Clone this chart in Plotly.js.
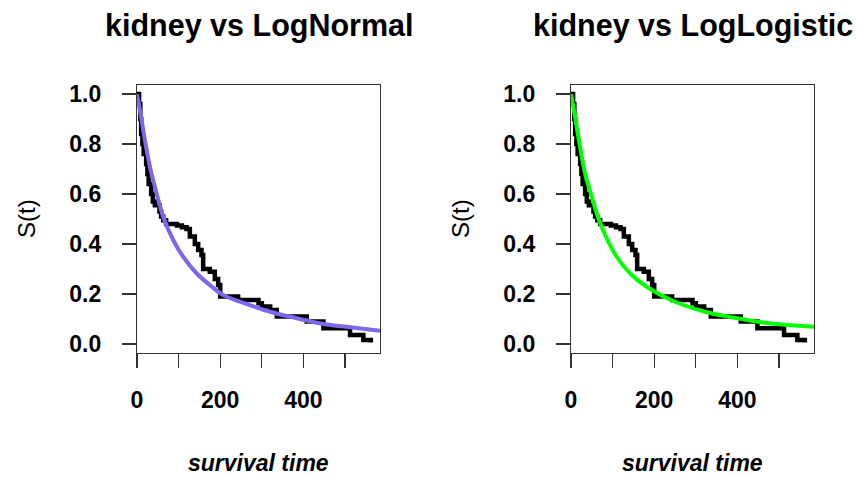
<!DOCTYPE html>
<html>
<head>
<meta charset="utf-8">
<script src="https://cdn.plot.ly/plotly-3.0.1.min.js"></script>
<style>html,body{margin:0;padding:0;background:#fff;}#chart{width:857px;height:477px;}</style>
</head>
<body>
<div id="chart"></div>
<script>
// Kaplan-Meier estimate of the kidney data (step function)
const kmTime = [0, 5, 8, 10, 13, 16, 22, 25, 28, 34, 38, 43, 54, 58, 63, 70, 96, 108, 119, 127, 139, 147, 155, 159, 175, 187, 195, 200, 243, 292, 300, 320, 336, 408, 448, 512, 544, 562];
const kmSurv = [1.0, 0.96, 0.90, 0.84, 0.80, 0.76, 0.72, 0.68, 0.64, 0.60, 0.57, 0.555, 0.53, 0.51, 0.495, 0.48, 0.474, 0.467, 0.46, 0.43, 0.40, 0.376, 0.356, 0.30, 0.289, 0.26, 0.236, 0.19, 0.176, 0.163, 0.15, 0.136, 0.11, 0.09, 0.063, 0.036, 0.016, 0.006];

// Fitted LogNormal survival curve
const lnTime = [0, 7, 19, 31, 47, 63, 87, 111, 143, 175, 207, 264, 320, 384, 448, 512, 584];
const lnSurv = [1.0, 0.936, 0.816, 0.709, 0.603, 0.509, 0.416, 0.349, 0.283, 0.236, 0.196, 0.16, 0.129, 0.103, 0.08, 0.067, 0.053];

// Fitted LogLogistic survival curve
const llTime = [0, 9.6, 21.6, 33.7, 49.7, 65.7, 85.7, 109.8, 145.8, 193.9, 250, 322, 386, 466, 585];
const llSurv = [1.0, 0.91, 0.79, 0.683, 0.59, 0.503, 0.423, 0.349, 0.276, 0.216, 0.169, 0.129, 0.107, 0.085, 0.069];

const titles = ["kidney vs LogNormal", "kidney vs LogLogistic"];
const xTickVals = [0, 100, 200, 300, 400, 500];
const xTickText = ["0", "", "200", "", "400", ""];
const yTickVals = [0, 0.2, 0.4, 0.6, 0.8, 1.0];
const yTickText = ["0.0", "0.2", "0.4", "0.6", "0.8", "1.0"];
const xTitle = "survival time";
const yTitle = "S(t)";

(function () {
const FONT = "Liberation Sans, Arial, sans-serif";
const W = 857, H = 477;
const box = [{l: 137, r: 380}, {l: 571, r: 814}];
const boxTop = 85, boxBottom = 353;

const traces = [
  {x: kmTime, y: kmSurv, type: "scatter", mode: "lines", line: {shape: "hv", color: "#000", width: 4.5}, xaxis: "x", yaxis: "y", hoverinfo: "skip"},
  {x: lnTime, y: lnSurv, type: "scatter", mode: "lines", line: {shape: "spline", color: "#7B68EE", width: 4}, xaxis: "x", yaxis: "y"},
  {x: kmTime, y: kmSurv, type: "scatter", mode: "lines", line: {shape: "hv", color: "#000", width: 4.5}, xaxis: "x2", yaxis: "y2", hoverinfo: "skip"},
  {x: llTime, y: llSurv, type: "scatter", mode: "lines", line: {shape: "spline", color: "#00FF00", width: 4}, xaxis: "x2", yaxis: "y2"}
];

function xa(i) {
  return {
    domain: [box[i].l / W, box[i].r / W],
    range: [0, 584], anchor: i ? "y2" : "y",
    showgrid: false, zeroline: false,
    showline: true, mirror: true, linecolor: "#333", linewidth: 1.2,
    ticks: "outside", ticklen: 14, tickwidth: 1.2, tickcolor: "#333",
    tickvals: xTickVals, ticktext: xTickText,
    ticklabelstandoff: 12,
    tickfont: {family: FONT, size: 23, color: "#000", weight: "bold"}
  };
}
function ya(i) {
  return {
    domain: [(H - boxBottom) / H, (H - boxTop) / H],
    range: [-0.036, 1.036], anchor: i ? "x2" : "x",
    showgrid: false, zeroline: false,
    showline: true, mirror: true, linecolor: "#333", linewidth: 1.2,
    ticks: "outside", ticklen: 14, tickwidth: 1.2, tickcolor: "#333",
    tickvals: yTickVals, ticktext: yTickText,
    ticklabelstandoff: 16,
    tickfont: {family: FONT, size: 23, color: "#000", weight: "bold"}
  };
}

const annotations = [];
for (let i = 0; i < 2; i++) {
  const cx = (box[i].l + box[i].r) / 2;
  annotations.push({text: "<b>" + titles[i] + "</b>", xref: "paper", yref: "paper", x: cx / W, y: 1 - 25 / H, xanchor: "center", yanchor: "middle", showarrow: false, font: {family: FONT, size: 30.5, color: "#000"}});
  annotations.push({text: "<b><i>" + xTitle + "</i></b>", xref: "paper", yref: "paper", x: cx / W, y: 1 - 463 / H, xanchor: "center", yanchor: "middle", showarrow: false, font: {family: FONT, size: 23, color: "#000"}});
  annotations.push({text: yTitle, xref: "paper", yref: "paper", x: (box[i].l - 111) / W, y: 1 - ((boxTop + boxBottom) / 2) / H, xanchor: "center", yanchor: "middle", textangle: -90, showarrow: false, font: {family: FONT, size: 24, color: "#000"}});
}

const layout = {
  width: W, height: H,
  margin: {l: 0, r: 0, t: 0, b: 0},
  paper_bgcolor: "#fff", plot_bgcolor: "#fff",
  showlegend: false,
  xaxis: xa(0), yaxis: ya(0), xaxis2: xa(1), yaxis2: ya(1),
  annotations: annotations
};

Plotly.newPlot("chart", traces, layout, {staticPlot: true, displayModeBar: false});
})();
</script>
</body>
</html>
